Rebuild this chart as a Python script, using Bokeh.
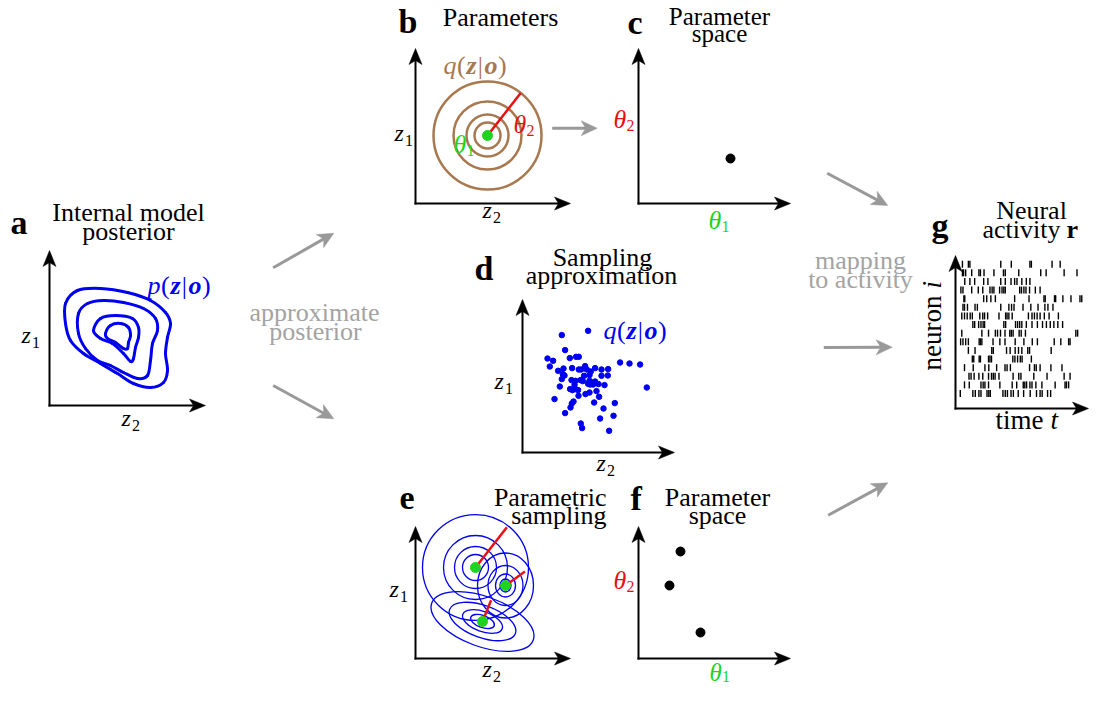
import math
from bokeh.plotting import figure
from bokeh.models import Range1d
from bokeh.embed import file_html
from bokeh.resources import INLINE
from bokeh.core.properties import value

# ------------------------------------------------------------------
# DATA (in local axis units of each panel)
# ------------------------------------------------------------------
# (a) posterior p(z|o): four closed contour lines, anchor points (z2, z1)
post_c1_z2 = [16, 28, 51, 78, 101, 116, 121, 118, 116, 118, 114, 101, 84, 68, 51, 34, 21, 16]
post_c1_z1 = [102, 115, 117, 113, 105, 93, 82, 68, 52, 35, 23, 18, 22, 32, 42, 52, 65, 82]
post_c2_z2 = [29, 38, 54, 74, 94, 106, 108, 103, 101, 98, 88, 74, 61, 48, 36, 29]
post_c2_z1 = [92, 102, 105, 103, 97, 87, 75, 62, 45, 30, 27, 33, 40, 45, 57, 72]
post_c3_z2 = [44, 51, 66, 83, 89, 89, 86, 84, 81, 74, 63, 51]
post_c3_z1 = [75, 87, 90, 87, 78, 68, 58, 47, 44, 52, 62, 67]
post_c4_z2 = [56, 61, 71, 79, 81, 79, 78, 74, 66, 58]
post_c4_z1 = [72, 80, 82, 78, 70, 63, 57, 57, 63, 67]

# (b) parametric approximation q(z|o): mean (theta1) and ring radii (theta2)
q_mean_z2, q_mean_z1 = 72, 68
q_ring_radii = [54, 34, 21, 13]

# (c) one point in parameter space (theta1, theta2)
c_theta1 = [92]
c_theta2 = [45]

# (d) samples from q(z|o)
d_z2 = [39.3, 65.6, 42.6, 25.0, 30.6, 47.3, 53.6, 56.3, 27.3, 35.6, 41.0, 40.3, 42.0, 49.6,
        56.3, 58.6, 62.6, 64.3, 72.6, 79.0, 85.6, 97.6, 107.0, 117.6, 61.6, 67.0, 68.3, 49.0,
        53.0, 58.0, 60.3, 67.0, 69.6, 72.6, 76.0, 82.0, 39.3, 37.3, 52.0, 53.0, 65.6, 67.6,
        70.6, 79.0, 85.3, 47.6, 50.0, 55.6, 56.0, 63.0, 67.0, 74.0, 76.6, 32.0, 51.0, 49.3,
        48.0, 42.6, 71.6, 81.0, 92.3, 91.0, 77.6, 58.3, 59.6, 86.6, 124.3]
d_z1 = [117.4, 121.7, 102.4, 94.0, 91.7, 94.4, 95.7, 95.7, 86.0, 81.7, 84.0, 78.4, 77.0, 84.4,
        83.0, 83.0, 86.4, 83.0, 84.4, 83.0, 83.4, 90.0, 89.0, 88.0, 76.7, 77.4, 81.0, 72.4,
        71.7, 72.4, 71.4, 71.7, 70.0, 71.0, 68.4, 67.4, 73.4, 66.0, 67.7, 63.4, 68.7, 68.0,
        68.0, 76.7, 77.0, 63.4, 62.4, 62.4, 56.7, 58.4, 60.0, 61.4, 55.7, 53.4, 51.0, 49.0,
        45.0, 39.4, 50.0, 44.0, 49.4, 36.7, 34.0, 29.0, 24.4, 21.7, 65.0]

# (e) parametric samples: three Gaussian components
e_mean_z2 = [60, 90, 67]
e_mean_z1 = [91, 73, 37]
e_ring_w = [[106, 64, 42, 26], [56, 35, 20, 11], [108, 70, 42, 25]]   # full widths
e_ring_h = [[106, 64, 42, 26], [65, 40, 23, 13], [50, 32, 20, 12]]    # full heights
e_ring_angle_deg = [0, 0, -20]
e_theta2_len = [51, 24, 23]
e_theta2_dir_deg = [52, 36, 68]

# (f) three points in parameter space
f_theta1 = [42, 31, 62]
f_theta2 = [107, 73, 26]

# (g) spike raster: spike times per neuron, listed from top row (neuron 16) to bottom (neuron 1)
spikes = [
    [7.7, 14.3, 16, 50.3, 62, 82.7, 84.3, 107.3, 116.3],
    [7.7, 9, 11.3, 18, 26, 27.7, 31.7, 42.7, 53.3, 55.3, 70.3, 94.7, 100.7, 120.7, 135],
    [10.3, 16, 21.3, 31.3, 36, 50.3, 55.3, 61.7, 65.7, 68.3, 73.7, 78.7, 82.7],
    [6, 8.3, 18, 25.3, 30.3, 38.3, 40.7, 42.7, 49, 51.7, 53.7, 55.3, 71.3, 73.3, 76, 78.3, 82.3, 88.7, 94],
    [9.3, 10.3, 31.3, 34.7, 39.3, 44.3, 65.7, 81.7, 98.3, 99.7, 110, 111.3, 119.3, 128.3, 138.3, 140.3],
    [8.3, 10, 13.3, 21.7, 24.3, 50.3, 59.3, 62.3, 65, 75, 83.7, 91.7, 99.3, 102.7, 108.3],
    [7, 10, 13, 16.3, 18.7, 27, 30.3, 32.3, 35.7, 48.3, 55.7, 57.3, 59.3, 63, 81, 85, 87.7, 90.7, 94, 98.7, 104, 114.3],
    [19.3, 21.3, 25.7, 28.3, 30.7, 32.3, 53.7, 55.7, 66.7, 69, 71.3, 73.7, 78.7, 85, 91, 96.7, 101, 105.3, 109.3, 113.7, 119],
    [7, 29.3, 36.7, 44.3, 46.7, 50, 55, 60.3, 62, 64, 70.7, 73, 77.7, 133.7, 135.7],
    [5.7, 8.3, 11.3, 14.3, 26.3, 27.7, 29.3, 41.7, 49.3, 55, 66.3, 76, 85.3, 91, 109.7, 117, 125.7, 127.3],
    [14.3, 21.7, 40.3, 42, 56.7, 60.7, 66.3, 70, 73.7, 80.3, 82.3, 106.3],
    [18.7, 20.3, 26.3, 27.7, 36.7, 38.3, 40, 63.7, 66, 69, 72, 74, 84.3],
    [10, 19.7, 32.7, 37, 45.7, 55, 57.3, 61, 82.3, 87.7, 89.7, 94, 106, 118.3],
    [15, 17.3, 20.7, 26, 30.3, 36.7, 40, 42, 44, 48.3, 64, 70.3, 72.7, 87, 101.7, 120.7, 127.3],
    [10, 15.3, 28.3, 30.7, 32.7, 36.7, 49.3, 63, 68, 75.3, 77, 79, 82.7, 85, 89.3, 96, 110.7, 121.7, 123.3, 125.7],
    [5.3, 19.3, 22, 26, 28.3, 35, 37, 38.7, 52.7, 55.3, 57.7, 61.7, 64.3, 69.7, 75.7, 83, 90, 94, 96.3, 102.3, 105.7],
]

# ------------------------------------------------------------------
# LAYOUT / STYLE
# ------------------------------------------------------------------
SERIF = "'Liberation Serif', 'DejaVu Serif', serif"
BLUE = "#0000f0"
BROWN = "#a8794e"
GREEN = "#1ed41e"
RED = "#e81111"
GRAY = "#999999"
GRAY_TXT = "#a3a3a3"
BASELINE_FIX = 0.3   # measured offset (in em) of the svg text baseline, compensated below

SH = 12  # the bottom row (panels e, f) is lifted a little so it fits the canvas
ORIGIN = {"a": (49, 405), "b": (415, 203), "c": (638, 203), "d": (522, 452),
          "e": (415, 670 - SH), "f": (638, 670 - SH), "g": (955, 408)}
AXLEN = {"a": (156, 155), "b": (155, 155), "c": (152, 155), "d": (152, 153),
         "e": (155, 132), "f": (152, 132), "g": (133, 153)}
G_TSCALE = 0.9   # horizontal squeeze of the raster so the panel fits the canvas

p = figure(width=1091, height=686, x_range=Range1d(0, 1091), y_range=Range1d(686, 0),
           output_backend="svg", toolbar_location=None,
           x_axis_location=None, y_axis_location=None, min_border=0)
p.outline_line_color = None
p.background_fill_color = "white"
p.border_fill_color = "white"
p.grid.visible = False


def L(panel, u, v):
    ox, oy = ORIGIN[panel]
    return ox + u, oy - v


def txt(x, y, s, size, color="black", style="normal", align="left", angle=0.0):
    off = BASELINE_FIX * size
    xd = x - off * math.sin(angle)
    yd = y - off * math.cos(angle)
    p.text(x=[xd], y=[yd], text=[s], text_font=value(SERIF), text_font_size=value(f"{size}px"),
           text_font_style=style, text_color=color, text_align=align,
           text_baseline="alphabetic", angle=angle)


# ---------- arrows ----------
def arrow_parts(x0, y0, x1, y1, hl, hw, notch):
    dx, dy = x1 - x0, y1 - y0
    d = math.hypot(dx, dy)
    ux, uy = dx / d, dy / d
    px, py = -uy, ux
    bx, by = x1 - ux * hl, y1 - uy * hl
    nx, ny = x1 - ux * (hl - notch), y1 - uy * (hl - notch)
    head_x = [x1, bx + px * hw, nx, bx - px * hw]
    head_y = [y1, by + py * hw, ny, by - py * hw]
    return (x0, y0, nx + ux * 1.0, ny + uy * 1.0), head_x, head_y


def draw_arrows(lines, color, lw, hl, hw, notch, cap="butt"):
    sx0, sy0, sx1, sy1, hx, hy = [], [], [], [], [], []
    for (x0, y0, x1, y1) in lines:
        seg, ax, ay = arrow_parts(x0, y0, x1, y1, hl, hw, notch)
        sx0.append(seg[0]); sy0.append(seg[1]); sx1.append(seg[2]); sy1.append(seg[3])
        hx.append(ax); hy.append(ay)
    p.segment(x0=sx0, y0=sy0, x1=sx1, y1=sy1, line_color=color, line_width=lw, line_cap=cap)
    p.patches(xs=hx, ys=hy, fill_color=color, line_color=color, line_width=0.5)


axis_lines = []
for k, (ox, oy) in ORIGIN.items():
    lx, ly = AXLEN[k]
    axis_lines.append((ox, oy, ox + lx, oy))
    axis_lines.append((ox, oy, ox, oy - ly))
draw_arrows(axis_lines, "black", 2, 16, 6.5, 4, cap="square")

flow_arrows = [(272.7, 267.3, 333.3, 232.7), (272.7, 385, 333.3, 418.3),
               (551.7, 127.7, 596.7, 127.7),
               (826.7, 172.7, 887.3, 205), (823.3, 347, 891.7, 346.7),
               (827.7, 520.7 - SH / 2, 887.3, 488.3 - SH / 2)]
draw_arrows(flow_arrows, GRAY, 3, 16, 7.5, 4.5)

# ---------- (a) contours, smooth closed curves through anchor points ----------
def closed_curve(panel, us, vs, color, lw):
    pts = [L(panel, u, v) for u, v in zip(us, vs)]
    n = len(pts)
    x0, y0, x1, y1, cx0, cy0, cx1, cy1 = ([] for _ in range(8))
    for i in range(n):
        P0, P1, P2, P3 = pts[i - 1], pts[i], pts[(i + 1) % n], pts[(i + 2) % n]
        x0.append(P1[0]); y0.append(P1[1]); x1.append(P2[0]); y1.append(P2[1])
        cx0.append(P1[0] + (P2[0] - P0[0]) / 6); cy0.append(P1[1] + (P2[1] - P0[1]) / 6)
        cx1.append(P2[0] - (P3[0] - P1[0]) / 6); cy1.append(P2[1] - (P3[1] - P1[1]) / 6)
    p.bezier(x0=x0, y0=y0, x1=x1, y1=y1, cx0=cx0, cy0=cy0, cx1=cx1, cy1=cy1,
             line_color=color, line_width=lw, line_cap="round")


for us, vs in [(post_c1_z2, post_c1_z1), (post_c2_z2, post_c2_z1),
               (post_c3_z2, post_c3_z1), (post_c4_z2, post_c4_z1)]:
    closed_curve("a", us, vs, BLUE, 3)

# ---------- (b) rings ----------
bx, by = L("b", q_mean_z2, q_mean_z1)
p.ellipse(x=[bx] * len(q_ring_radii), y=[by] * len(q_ring_radii),
          width=[2 * r for r in q_ring_radii], height=[2 * r for r in q_ring_radii],
          fill_color=None, line_color=BROWN, line_width=2.5)
ang = math.radians(52)
ex, ey = L("b", q_mean_z2 + q_ring_radii[0] * math.cos(ang), q_mean_z1 + q_ring_radii[0] * math.sin(ang))
p.segment(x0=[bx], y0=[by], x1=[ex], y1=[ey], line_color=RED, line_width=2.5)
p.scatter(x=[bx], y=[by], size=10, fill_color=GREEN, line_color=GREEN)

# ---------- (c) parameter point ----------
cx_, cy_ = zip(*[L("c", u, v) for u, v in zip(c_theta1, c_theta2)])
p.scatter(x=list(cx_), y=list(cy_), size=9, fill_color="black", line_color="black")

# ---------- (d) samples ----------
dx_, dy_ = zip(*[L("d", u, v) for u, v in zip(d_z2, d_z1)])
p.scatter(x=list(dx_), y=list(dy_), size=5.5, fill_color=BLUE, line_color=BLUE)

# ---------- (e) parametric samples ----------
for i in range(3):
    mx, my = L("e", e_mean_z2[i], e_mean_z1[i])
    nr = len(e_ring_w[i])
    p.ellipse(x=[mx] * nr, y=[my] * nr, width=e_ring_w[i], height=e_ring_h[i],
              angle=math.radians(e_ring_angle_deg[i]),
              fill_color=None, line_color=BLUE, line_width=1.3)
for i in range(3):
    mx, my = L("e", e_mean_z2[i], e_mean_z1[i])
    a_ = math.radians(e_theta2_dir_deg[i])
    tx, ty = L("e", e_mean_z2[i] + e_theta2_len[i] * math.cos(a_),
               e_mean_z1[i] + e_theta2_len[i] * math.sin(a_))
    p.segment(x0=[mx], y0=[my], x1=[tx], y1=[ty], line_color=RED, line_width=2.5)
emx, emy = zip(*[L("e", u, v) for u, v in zip(e_mean_z2, e_mean_z1)])
p.scatter(x=list(emx), y=list(emy), size=10, fill_color=GREEN, line_color=GREEN)

# ---------- (f) parameter points ----------
fx_, fy_ = zip(*[L("f", u, v) for u, v in zip(f_theta1, f_theta2)])
p.scatter(x=list(fx_), y=list(fy_), size=9, fill_color="black", line_color="black")

# ---------- (g) raster ----------
ROW0, ROW_STEP, TICK_H = 15, 8.62, 7
gx0, gy0, gx1, gy1 = [], [], [], []
for k, row in enumerate(spikes):
    neuron = len(spikes) - k
    v = ROW0 + (neuron - 1) * ROW_STEP
    for t in row:
        x, y = L("g", t * G_TSCALE, v)
        gx0.append(x); gx1.append(x); gy0.append(y + TICK_H / 2); gy1.append(y - TICK_H / 2)
p.segment(x0=gx0, y0=gy0, x1=gx1, y1=gy1, line_color="black", line_width=1.4)

# ---------- texts ----------
for s, x, y in [("a", 10, 232), ("b", 398, 31), ("c", 627, 32), ("d", 474, 278),
                ("e", 399, 520 - SH), ("f", 630, 520 - SH), ("g", 931, 235)]:
    txt(x, y, s, 34, style="bold")

TS = 26
txt(128, 220, "Internal model", TS, align="center")
txt(128, 239, "posterior", TS, align="center")
txt(500, 25, "Parameters", TS, align="center")
txt(719, 23, "Parameter", 25, align="center")
txt(719, 40, "space", 25, align="center")
txt(602, 265, "Sampling", TS, align="center")
txt(601, 283, "approximation", TS, align="center")
txt(606, 517 - SH, "Parametric", TS, align="right")
txt(606, 535 - SH, "sampling", TS, align="right")
txt(717, 517 - SH, "Parameter", TS, align="center")
txt(717, 535 - SH, "space", TS, align="center")
txt(1031, 218, "Neural", TS, align="center")
txt(1060, 237, "activity", TS, align="right")
txt(1066, 237, "r", TS, style="bold")

GS = 26
txt(314, 320, "approximate", GS, color=GRAY_TXT, align="center")
txt(315, 339, "posterior", GS, color=GRAY_TXT, align="center")
txt(860, 268, "mapping", GS, color=GRAY_TXT, align="center")
txt(860, 287, "to activity", GS, color=GRAY_TXT, align="center")

# g axis labels
txt(940, 370, "neuron", 27, angle=math.pi / 2)
txt(940, 288, "i", 27, style="italic", angle=math.pi / 2)
txt(995, 428, "time", 27)
txt(1050, 428, "t", 27, style="italic")


def sub_label(x, y, main, sub, color="black", size=24, subsize=16, dx=10.5, dy=5):
    txt(x, y, main, size, color=color, style="italic")
    txt(x + dx, y + dy, sub, subsize, color=color)


for (x, y), sub in [((21, 342), "1"), ((121, 425), "2"), ((394, 140), "1"), ((482, 217), "2"),
                    ((494, 388), "1"), ((596, 470), "2"), ((389, 608 - SH), "1"),
                    ((482, 676), "2")]:
    sub_label(x, y, "z", sub)

for (x, y), sub, col in [((513, 132), "2", RED), ((453, 152), "1", GREEN),
                         ((613, 127), "2", RED), ((708, 228), "1", GREEN),
                         ((613, 600 - SH), "2", RED)]:
    sub_label(x, y, "\u03b8", sub, color=col, size=26, subsize=16, dx=13, dy=3)
sub_label(709, 679, "\u03b8", "1", color=GREEN, size=25, subsize=16, dx=12.5, dy=2)


def dist_label(x, y, letter, color, size=26):
    segs = [(letter, "italic", 0.52), ("(", "normal", 0.36), ("z", "bold italic", 0.44),
            ("|", "normal", 0.26), ("o", "bold italic", 0.52), (")", "normal", 0.33)]
    cx = x
    for s, st, w in segs:
        txt(cx, y, s, size, color=color, style=st)
        cx += w * size


dist_label(147, 293, "p", BLUE)
dist_label(443, 73, "q", BROWN)
dist_label(603, 338, "q", BLUE)

open("out.html", "w").write(file_html(p, INLINE))
